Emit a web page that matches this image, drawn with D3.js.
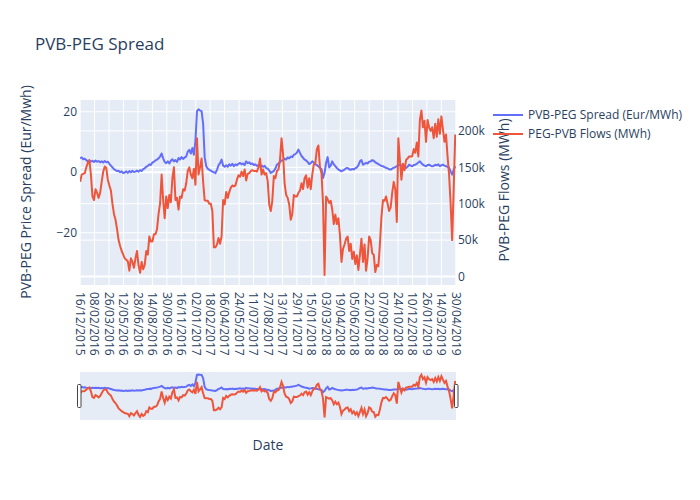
<!DOCTYPE html>
<html><head><meta charset="utf-8">
<script src="https://cdn.jsdelivr.net/npm/d3@7"></script>
<style>body{margin:0;background:#fff}svg{display:block;font-family:"Open Sans",verdana,arial,sans-serif}</style>
</head><body><svg id="c" width="700" height="500"></svg>
<script>
const tickLabels = ["16/12/2015","08/02/2016","26/03/2016","12/05/2016","28/06/2016","14/08/2016","30/09/2016","16/11/2016","02/01/2017","18/02/2017","06/04/2017","24/05/2017","11/07/2017","27/08/2017","13/10/2017","29/11/2017","15/01/2018","03/03/2018","19/04/2018","05/06/2018","22/07/2018","07/09/2018","24/10/2018","10/12/2018","26/01/2019","14/03/2019","30/04/2019"];
const tickStep = 47;      // categories between labelled dates
const nCategories = 1223; // number of daily categories
const sampleStep = 5;     // categories between stored samples
const spread = [4.6,4.9,4.3,4.5,4.0,3.6,3.9,3.5,3.8,3.4,
 3.9,3.5,3.7,3.3,3.6,3.2,3.7,3.3,3.5,2.8,
 2.2,1.6,1.0,0.7,0.4,0.5,0.0,0.3,-0.3,-0.1,
 0.3,-0.2,0.4,0.0,0.5,0.1,0.2,0.6,0.2,0.7,
 0.4,1.0,1.3,1.8,2.1,2.6,2.4,3.2,3.5,3.9,
 4.2,4.6,5.2,6.2,4.6,3.4,3.0,3.6,2.9,3.8,
 4.3,3.6,4.0,3.4,4.7,4.2,5.0,4.4,4.9,5.2,
 6.8,7.4,6.2,8.0,5.8,10.5,20.2,20.8,20.4,20.2,
 16,5.0,2.0,1.2,0.8,0.5,0.2,0.0,-0.3,0.8,
 2.3,3.0,4.2,2.2,1.8,2.3,1.8,2.6,2.2,2.8,
 2.0,2.6,2.3,2.8,3.1,2.6,2.9,2.4,3.6,3.0,
 3.3,2.7,2.9,2.4,2.6,2.1,2.3,1.9,2.2,1.8,
 2.1,1.4,1.2,0.6,-0.2,0.1,0.4,1.2,2.5,2.9,
 3.4,3.9,4.0,4.5,4.2,4.9,4.6,5.2,5.0,5.8,
 6.0,6.5,7.5,6.4,5.4,4.8,4.2,3.9,3.4,2.7,
 3.0,3.6,3.2,2.6,2.4,1.9,1.5,1.0,-1.9,-0.2,
 3.1,5.0,1.6,2.2,3.6,2.6,2.0,1.4,0.9,0.6,
 0.3,0.6,0.9,1.3,1.4,1.0,0.8,1.1,0.9,1.3,
 1.6,2.3,3.6,4.0,2.5,2.8,3.1,2.9,3.5,3.6,
 4.0,3.8,3.3,3.0,2.7,2.4,2.1,2.0,1.7,1.5,
 1.3,1.0,0.9,1.2,1.5,1.7,2.0,2.4,2.5,2.2,
 2.0,1.6,1.4,1.8,2.5,2.2,2.0,2.4,2.5,2.8,
 3.2,3.6,3.0,2.5,2.2,2.0,2.4,2.5,2.2,2.0,
 2.1,2.5,2.3,2.6,2.0,2.3,2.5,2.2,2.0,1.8,
 1.5,0.3,-0.8,0.9,2.0];
const flows = [130000,140000,141000,142000,150000,156000,160000,140000,110000,105000,
 120000,115000,108000,115000,130000,144000,151000,149000,133000,125000,
 118000,100000,86000,78000,65000,50000,42000,35000,30000,25000,
 23000,21000,8000,25000,20000,12000,25000,35000,15000,5000,
 20000,10000,16000,35000,30000,55000,48000,48000,58000,58000,
 65000,86000,100000,140000,105000,80000,110000,94000,112000,102000,
 135000,150000,105000,108000,92000,110000,108000,120000,118000,128000,
 145000,150000,140000,135000,148000,126000,190000,140000,150000,162000,
 130000,105000,104000,104000,100000,100000,90000,40000,40000,44000,
 53000,45000,55000,105000,99000,116000,108000,116000,122000,125000,
 124000,125000,133000,139000,137000,144000,138000,147000,132000,141000,
 142000,145000,146000,145000,145000,144000,150000,162000,140000,147000,
 140000,142000,131000,99000,90000,104000,138000,135000,145000,147000,
 160000,190000,168000,128000,112000,108000,99000,78000,86000,112000,
 110000,110000,115000,118000,128000,120000,135000,139000,122000,135000,
 120000,140000,154000,156000,175000,180000,150000,142000,100000,2000,
 110000,106000,101000,104000,92000,72000,85000,72000,80000,57000,
 20000,38000,44000,52000,55000,35000,45000,24000,34000,17000,
 29000,9000,30000,52000,20000,44000,8000,25000,55000,50000,
 32000,30000,6000,16000,14000,44000,82000,105000,104000,110000,
 100000,90000,95000,115000,130000,120000,75000,190000,160000,133000,
 155000,146000,160000,162000,165000,165000,165000,175000,170000,184000,
 165000,215000,228000,205000,214000,185000,215000,205000,200000,205000,
 190000,210000,192000,216000,196000,220000,202000,185000,195000,165000,
 140000,100000,50000,120000,195000];
const leftTicks = [-20, 0, 20];
const rightTicks = [0, 50000, 100000, 150000, 200000];
const seriesNames = ["PVB-PEG Spread (Eur/MWh)", "PEG-PVB Flows (MWh)"];
const colors = ["#636efa", "#EF553B"];

const svg = d3.select("#c");
const txt = "#2a3f5f", bg = "#E5ECF6";
const L = 80, R = 456, T = 100, B = 285, ST = 372, SB = 420;

const x = d3.scaleLinear().domain([-0.5, nCategories - 0.5]).range([L, R]);
const yL = d3.scaleLinear().domain([-37.3, 23.9]).range([B, T]);
const yR = d3.scaleLinear().domain([-11700, 242500]).range([B, T]);
const yLs = yL.copy().range([SB, ST]);
const yRs = yR.copy().range([SB, ST]);

svg.append("text").attr("x", 35).attr("y", 50).attr("font-size", 17).attr("fill", txt).text("PVB-PEG Spread");

svg.append("rect").attr("x", L).attr("y", T).attr("width", R - L).attr("height", B - T).attr("fill", bg);
const tickIdx = tickLabels.map((d, i) => i * tickStep);
const g = svg.append("g");
g.selectAll(".vg").data(tickIdx).join("line").attr("x1", d => x(d)).attr("x2", d => x(d)).attr("y1", T).attr("y2", B).attr("stroke", "#fff").attr("stroke-width", 1);
g.selectAll(".hl").data(leftTicks).join("line").attr("x1", L).attr("x2", R).attr("y1", d => yL(d)).attr("y2", d => yL(d)).attr("stroke", "#fff").attr("stroke-width", d => d === 0 ? 2 : 1);
g.selectAll(".hr").data(rightTicks).join("line").attr("x1", L).attr("x2", R).attr("y1", d => yR(d)).attr("y2", d => yR(d)).attr("stroke", "#fff").attr("stroke-width", d => d === 0 ? 2 : 1);

svg.append("defs").append("clipPath").attr("id", "clip").append("rect").attr("x", L).attr("y", T).attr("width", R - L).attr("height", B - T);
const lineL = d3.line().x((d, i) => x(i * sampleStep)).y(d => yL(d));
const lineR = d3.line().x((d, i) => x(i * sampleStep)).y(d => yR(d));
const pg = svg.append("g").attr("clip-path", "url(#clip)");
pg.append("path").attr("d", lineL(spread)).attr("fill", "none").attr("stroke", colors[0]).attr("stroke-width", 2).attr("stroke-linejoin", "round");
pg.append("path").attr("d", lineR(flows)).attr("fill", "none").attr("stroke", colors[1]).attr("stroke-width", 2).attr("stroke-linejoin", "round");

svg.selectAll(".lt").data(leftTicks).join("text").attr("x", 77).attr("y", d => yL(d)).attr("dy", "0.35em").attr("text-anchor", "end").attr("font-size", 12).attr("fill", txt).text(d3.format("d"));
svg.selectAll(".rt").data(rightTicks).join("text").attr("x", 458).attr("y", d => yR(d)).attr("dy", "0.35em").attr("text-anchor", "start").attr("font-size", 12).attr("fill", txt).text(d3.format("~s"));
svg.selectAll(".xt").data(tickLabels).join("text")
  .attr("transform", (d, i) => `translate(${x(i * tickStep)},292) rotate(90)`)
  .attr("dy", "0.35em").attr("text-anchor", "start").attr("font-size", 12).attr("fill", txt).text(d => d);

svg.append("text").attr("transform", "translate(31,192) rotate(-90)").attr("text-anchor", "middle").attr("font-size", 14).attr("fill", txt).text("PVB-PEG Price Spread (Eur/Mwh)");
svg.append("text").attr("transform", "translate(508.5,190) rotate(-90)").attr("text-anchor", "middle").attr("font-size", 14).attr("fill", txt).text("PVB-PEG Flows (MWh)");
svg.append("text").attr("x", (L + R) / 2).attr("y", 450).attr("text-anchor", "middle").attr("font-size", 14).attr("fill", txt).text("Date");

const lg = svg.append("g").attr("transform", "translate(488,0)");
seriesNames.forEach((n, i) => {
  const yy = 115 + i * 19;
  lg.append("line").attr("x1", 5).attr("x2", 35).attr("y1", yy).attr("y2", yy).attr("stroke", colors[i]).attr("stroke-width", 2);
  lg.append("text").attr("x", 40).attr("y", yy).attr("dy", "0.35em").attr("font-size", 12).attr("fill", txt).text(n);
});

svg.append("rect").attr("x", L).attr("y", ST).attr("width", R - L).attr("height", SB - ST).attr("fill", bg);
svg.append("defs").append("clipPath").attr("id", "clip2").append("rect").attr("x", L).attr("y", ST).attr("width", R - L).attr("height", SB - ST);
const sg = svg.append("g").attr("clip-path", "url(#clip2)");
sg.append("path").attr("d", d3.line().x((d, i) => x(i * sampleStep)).y(d => yLs(d))(spread)).attr("fill", "none").attr("stroke", colors[0]).attr("stroke-width", 2);
sg.append("path").attr("d", d3.line().x((d, i) => x(i * sampleStep)).y(d => yRs(d))(flows)).attr("fill", "none").attr("stroke", colors[1]).attr("stroke-width", 2);
[L - 2, R - 1].forEach(hx => {
  svg.append("rect").attr("x", hx - 0.5).attr("y", 384.5).attr("width", 3.5).attr("height", 23).attr("rx", 1).attr("fill", "#fff").attr("stroke", "#444").attr("stroke-width", 1);
});
</script></body></html>
